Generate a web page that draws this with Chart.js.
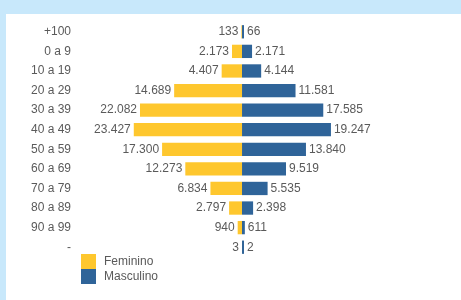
<!DOCTYPE html>
<html>
<head>
<meta charset="utf-8">
<script src="https://cdn.jsdelivr.net/npm/chart.js@4.4.1/dist/chart.umd.min.js"></script>
<style>
  html, body { margin: 0; padding: 0; }
  body { width: 461px; height: 300px; background: #c8e8fb; position: relative; overflow: hidden; }
  #panel { position: absolute; left: 6px; top: 14px; right: 0; bottom: 0; background: #fff; }
  #wrap { position: absolute; left: 0; top: 0; width: 461px; height: 300px; }
  .leg { position: absolute; left: 81px; font: 12px "Liberation Sans", Arial, sans-serif; color: #5a5a5a; }
  .leg span { position: absolute; left: 0; width: 15px; height: 15px; }
  .leg b { position: absolute; left: 23px; font-weight: normal; white-space: nowrap; line-height: 15px; }
</style>
</head>
<body>
<div id="panel"></div>
<div id="wrap"><canvas id="chart1" width="461" height="300"></canvas></div>
<div class="leg" style="top:254px"><span style="background:#fec72e"></span><b>Feminino</b></div>
<div class="leg" style="top:269px"><span style="background:#2f6499"></span><b>Masculino</b></div>
<script>
// faixas etarias e valores
const categories = ['+100', '0 a 9', '10 a 19', '20 a 29', '30 a 39', '40 a 49', '50 a 59',
  '60 a 69', '70 a 79', '80 a 89', '90 a 99', '-'];
const feminino = [133, 2173, 4407, 14689, 22082, 23427, 17300, 12273, 6834, 2797, 940, 3];
const masculino = [66, 2171, 4144, 11581, 17585, 19247, 13840, 9519, 5535, 2398, 611, 2];

const yellow = '#fec72e';
const blue = '#2f6499';
const textColor = '#5a5a5a';
const font = '12px "Liberation Sans", Arial, sans-serif';

function fmt(v) {
  return String(v).replace(/\B(?=(\d{3})+(?!\d))/g, '.');
}

// escreve os valores ao lado das barras
const valueLabels = {
  id: 'valueLabels',
  afterDatasetsDraw(chart) {
    const ctx = chart.ctx;
    ctx.save();
    ctx.font = font;
    ctx.fillStyle = textColor;
    ctx.textBaseline = 'middle';
    chart.data.datasets.forEach((ds, i) => {
      chart.getDatasetMeta(i).data.forEach((bar, j) => {
        const v = Math.abs(ds.data[j]);
        if (i === 0) {
          ctx.textAlign = 'right';
          ctx.fillText(fmt(v), Math.min(bar.x, bar.base) - 3, bar.y);
        } else {
          ctx.textAlign = 'left';
          ctx.fillText(fmt(v), Math.max(bar.x, bar.base) + 3, bar.y);
        }
      });
    });
    ctx.restore();
  }
};

new Chart('chart1', {
  type: 'bar',
  data: {
    labels: categories,
    datasets: [{
      label: 'Feminino',
      data: feminino.map(v => -v),
      backgroundColor: yellow
    }, {
      label: 'Masculino',
      data: masculino,
      backgroundColor: blue,
      minBarLength: 2
    }]
  },
  options: {
    indexAxis: 'y',
    responsive: false,
    animation: false,
    devicePixelRatio: 1,
    categoryPercentage: 1,
    barPercentage: 0.68,
    layout: { padding: { left: 0, right: 21, top: 22, bottom: 43 } },
    plugins: { legend: { display: false }, tooltip: { enabled: false } },
    scales: {
      x: { display: false, stacked: true, min: -35500, max: 42850 },
      y: {
        stacked: true,
        grid: { display: false, drawTicks: false },
        border: { display: false },
        ticks: { color: textColor, font: { family: '"Liberation Sans", Arial, sans-serif', size: 12 }, padding: 7 },
        afterFit(scale) { scale.width = 78; }
      }
    }
  },
  plugins: [valueLabels]
});
</script>
</body>
</html>
